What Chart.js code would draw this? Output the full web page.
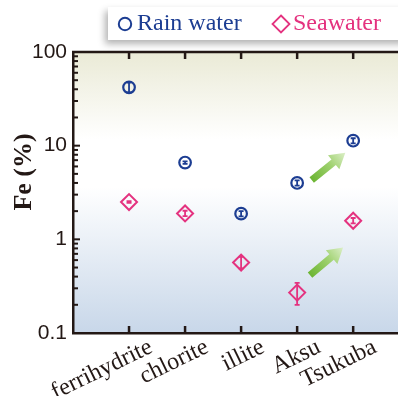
<!DOCTYPE html>
<html>
<head>
<meta charset="utf-8">
<script src="https://cdn.jsdelivr.net/npm/chart.js@4"></script>
<style>
  html, body { margin: 0; padding: 0; background: #fff; overflow: hidden; }
  #wrap { position: relative; width: 398px; height: 396px; }
  #legend {
    position: absolute; left: 108px; top: 7px; width: 300px; height: 33px;
    background: #fff; box-shadow: -3px 4px 7px rgba(0,0,0,0.3);
    font-family: "Liberation Serif", "Times New Roman", serif; font-size: 24px;
    white-space: nowrap; line-height: 33px;
  }
  #legend .item { position: absolute; top: 0; }
  #legend svg { position: absolute; top: 7px; left: 0; }
  #legend span { position: absolute; left: 20px; top: -1px; }
</style>
</head>
<body>
<div id="wrap">
  <canvas id="feChart" width="398" height="396"></canvas>
  <div id="legend"></div>
</div>
<script>
// categorias y valores (Fe %)
const categories = ['ferrihydrite', 'chlorite', 'illite', 'Aksu', 'Tsukuba'];
const rainFe   = [42, 6.6, 1.88, 4.0, 11.3];
const rainLow  = [37, 6.4, 1.76, 3.75, 10.6];
const rainHigh = [47, 6.8, 2.0, 4.27, 12.0];
const seaFe    = [2.5, 1.89, 0.565, 0.27, 1.58];
const seaLow   = [2.45, 1.77, 0.49, 0.20, 1.48];
const seaHigh  = [2.55, 2.02, 0.65, 0.343, 1.69];
const yTicks = [0.1, 1, 10, 100];
const seriesNames = ['Rain water', 'Seawater'];
const seriesColors = ['#1c3d92', '#e4327f'];
// flechas verdes (desde, hasta) en coordenadas de datos
const arrowFrom = [[3.26, 4.3], [3.23, 0.415]];
const arrowTo   = [[3.86, 8.4], [3.82, 0.82]];

const inkColor = '#231815';

// Fondo degradado del area del grafico
const bgPlugin = {
    id: 'bgPlugin',
    beforeDraw(chart) {
        const { ctx, chartArea: a } = chart;
        const g = ctx.createLinearGradient(0, a.top, 0, a.bottom);
        g.addColorStop(0, '#eaead6');
        g.addColorStop(0.31, '#ffffff');
        g.addColorStop(0.48, '#ffffff');
        g.addColorStop(1, '#c8d7e9');
        ctx.save();
        ctx.fillStyle = g;
        ctx.fillRect(a.left, a.top, a.right - a.left, a.bottom - a.top);
        ctx.restore();
    }
};

// Marco, marcas interiores, barras de error, flechas y titulo Y
const extrasPlugin = {
    id: 'extrasPlugin',
    afterDraw(chart) {
        const { ctx, chartArea: a } = chart;
        const xs = chart.scales.x, ys = chart.scales.y;
        ctx.save();
        ctx.strokeStyle = inkColor;
        ctx.lineWidth = 2.5;
        ctx.beginPath();
        ctx.moveTo(a.left - 1, a.top);
        ctx.lineTo(a.right, a.top);
        ctx.stroke();

        // marcas de categorias (arriba y abajo)
        ctx.lineWidth = 2.5;
        categories.forEach((c, i) => {
            const px = xs.getPixelForValue(i);
            ctx.beginPath();
            ctx.moveTo(px, a.top); ctx.lineTo(px, a.top + 7);
            ctx.moveTo(px, a.bottom); ctx.lineTo(px, a.bottom - 7);
            ctx.stroke();
        });

        // marcas logaritmicas en el eje Y
        ctx.lineWidth = 2;
        [0.1, 1, 10].forEach(d => {
            for (let k = 1; k <= 9; k++) {
                const py = ys.getPixelForValue(d * k);
                const len = k === 1 ? 7 : 5;
                ctx.beginPath();
                ctx.moveTo(a.left, py); ctx.lineTo(a.left + len, py);
                ctx.stroke();
            }
        });

        // barras de error
        const lows = [rainLow, seaLow], highs = [rainHigh, seaHigh];
        ctx.lineWidth = 1.8;
        lows.forEach((low, s) => {
            ctx.strokeStyle = seriesColors[s];
            low.forEach((lv, i) => {
                const px = xs.getPixelForValue(i);
                const y1 = ys.getPixelForValue(lv);
                const y2 = ys.getPixelForValue(highs[s][i]);
                ctx.beginPath();
                ctx.moveTo(px, y1); ctx.lineTo(px, y2);
                ctx.moveTo(px - 2.5, y1); ctx.lineTo(px + 2.5, y1);
                ctx.moveTo(px - 2.5, y2); ctx.lineTo(px + 2.5, y2);
                ctx.stroke();
            });
        });

        // flechas
        arrowFrom.forEach((f, i) => {
            const x0 = xs.getPixelForValue(f[0]), y0 = ys.getPixelForValue(f[1]);
            const x1 = xs.getPixelForValue(arrowTo[i][0]), y1 = ys.getPixelForValue(arrowTo[i][1]);
            const len = Math.hypot(x1 - x0, y1 - y0);
            const ang = Math.atan2(y1 - y0, x1 - x0);
            const headLen = 15, headW = 9, shaftW = 3.5;
            ctx.save();
            ctx.translate(x0, y0);
            ctx.rotate(ang);
            const g = ctx.createLinearGradient(0, 0, len, 0);
            g.addColorStop(0, '#6cb533');
            g.addColorStop(0.55, '#9fd16f');
            g.addColorStop(1, '#dcefc8');
            ctx.fillStyle = g;
            ctx.beginPath();
            ctx.moveTo(0, -shaftW);
            ctx.lineTo(len - headLen, -shaftW);
            ctx.lineTo(len - headLen, -headW);
            ctx.lineTo(len, 0);
            ctx.lineTo(len - headLen, headW);
            ctx.lineTo(len - headLen, shaftW);
            ctx.lineTo(0, shaftW);
            ctx.closePath();
            ctx.fill();
            ctx.restore();
        });

        // titulo del eje Y
        ctx.fillStyle = inkColor;
        ctx.font = 'bold 26px "Liberation Serif", serif';
        ctx.textAlign = 'center';
        ctx.textBaseline = 'middle';
        ctx.translate(24, 172);
        ctx.rotate(-Math.PI / 2);
        ctx.fillText('Fe (%)', 0, 0);
        ctx.restore();
    }
};

function toPoints(values) {
    return values.map((v, i) => ({ x: i, y: v }));
}

function initFeChart(ctx) {
    return new Chart(ctx, {
        type: 'scatter',
        data: {
            datasets: [
                {
                    label: seriesNames[0],
                    data: toPoints(rainFe),
                    pointStyle: 'circle',
                    pointRadius: 5.8,
                    pointBorderWidth: 2.2,
                    borderColor: seriesColors[0],
                    backgroundColor: 'rgba(255,255,255,0)'
                },
                {
                    label: seriesNames[1],
                    data: toPoints(seaFe),
                    pointStyle: 'rectRot',
                    pointRadius: 8,
                    pointBorderWidth: 2,
                    borderColor: seriesColors[1],
                    backgroundColor: 'rgba(255,255,255,0)'
                }
            ]
        },
        options: {
            responsive: false,
            animation: false,
            layout: { autoPadding: false, padding: { top: 52, right: 0, bottom: 0, left: 0 } },
            plugins: {
                legend: { display: false },
                tooltip: { enabled: false }
            },
            scales: {
                x: {
                    type: 'linear',
                    min: -1,
                    max: 4.8,
                    afterBuildTicks: s => { s.ticks = categories.map((c, i) => ({ value: i })); },
                    afterFit: s => { s.height = 63; s.paddingLeft = 0; s.paddingRight = 0; },
                    grid: { display: false, drawTicks: false, tickLength: 0 },
                    border: { display: true, color: inkColor, width: 2.5 },
                    ticks: {
                        autoSkip: false,
                        minRotation: 26,
                        maxRotation: 26,
                        labelOffset: 22,
                        padding: 0,
                        color: inkColor,
                        font: { family: '"Liberation Serif", serif', size: 24 },
                        callback: v => categories[v]
                    }
                },
                y: {
                    type: 'logarithmic',
                    min: 0.1,
                    max: 100,
                    afterBuildTicks: s => { s.ticks = yTicks.map(v => ({ value: v })); },
                    afterFit: s => { s.width = 73; },
                    grid: { display: false, drawTicks: false, tickLength: 0 },
                    border: { display: true, color: inkColor, width: 2.5 },
                    ticks: {
                        padding: 6,
                        color: inkColor,
                        font: { family: '"Liberation Sans", Arial, sans-serif', size: 21 },
                        callback: v => String(v)
                    }
                }
            }
        },
        plugins: [bgPlugin, extrasPlugin]
    });
}

// Leyenda HTML
function buildLegend() {
    const el = document.getElementById('legend');
    const lefts = [9, 165];
    seriesNames.forEach((name, i) => {
        const item = document.createElement('div');
        item.className = 'item';
        item.style.left = lefts[i] + 'px';
        item.style.color = seriesColors[i];
        const shape = i === 0
            ? '<circle cx="8" cy="10" r="6.2" fill="none" stroke="' + seriesColors[i] + '" stroke-width="2"/>'
            : '<polygon points="8,1.5 16.5,10 8,18.5 -0.5,10" fill="none" stroke="' + seriesColors[i] + '" stroke-width="1.8"/>';
        item.innerHTML = '<svg width="18" height="20" style="overflow:visible">' + shape + '</svg><span>' + name + '</span>';
        el.appendChild(item);
    });
}

buildLegend();
initFeChart(document.getElementById('feChart'));
</script>
</body>
</html>
